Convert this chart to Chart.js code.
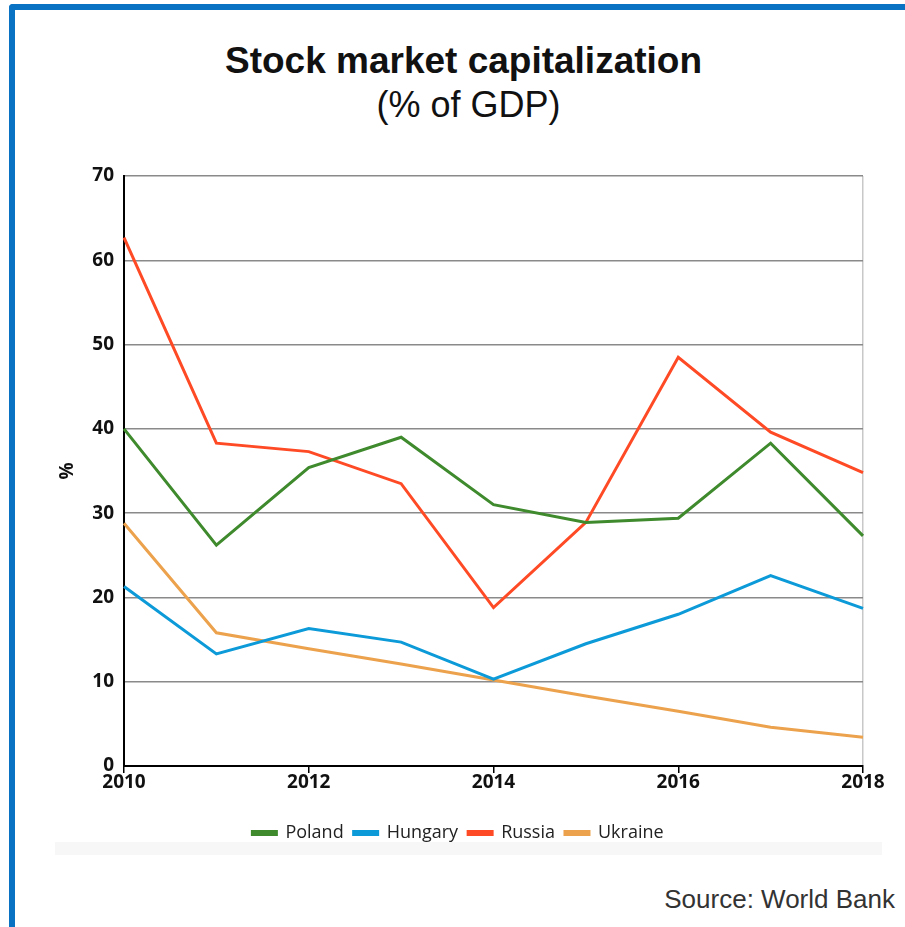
<!DOCTYPE html>
<html>
<head>
<meta charset="utf-8">
<script src="https://cdn.jsdelivr.net/npm/chart.js@4.4.1/dist/chart.umd.min.js"></script>
<style>
  body { margin: 0; background: #fff; }
  #frame {
    position: relative;
    width: 905px;
    height: 927px;
    overflow: hidden;
    background: #fff;
  }
  #frame .edge-top {
    position: absolute; left: 9px; top: 4px; right: -10px; height: 6px;
    background: #0a72c3; border-top-left-radius: 4px;
  }
  #frame .edge-left {
    position: absolute; left: 9px; top: 4px; width: 6px; bottom: 0;
    background: #0a72c3; border-top-left-radius: 4px;
  }
  .title {
    position: absolute; left: 22px; right: 0; top: 40px;
    text-align: center;
    font-family: "Liberation Sans", Arial, sans-serif;
    font-weight: bold; font-size: 37px; color: #111;
  }
  .subtitle {
    position: absolute; left: 32px; right: 0; top: 84px;
    text-align: center;
    font-family: "Liberation Sans", Arial, sans-serif;
    font-size: 36px; color: #111;
  }
  .band {
    position: absolute; left: 55px; top: 842px; width: 827px; height: 13px;
    background: #f7f7f7;
  }
  .source {
    position: absolute; right: 10px; top: 884px;
    font-family: "Liberation Sans", Arial, sans-serif;
    font-size: 26px; color: #333;
  }
  #chartBox {
    position: absolute; left: 0; top: 150px; width: 905px; height: 720px;
  }
</style>
</head>
<body>
<div id="frame">
  <div class="edge-top"></div>
  <div class="edge-left"></div>
  <div class="title">Stock market capitalization</div>
  <div class="subtitle">(% of GDP)</div>
  <div class="band"></div>
  <div id="chartBox"><canvas id="capChart"></canvas></div>
  <div class="source">Source: World Bank</div>
</div>
<script>
// Stock market capitalization, % of GDP
const years = ['2010', '2011', '2012', '2013', '2014', '2015', '2016', '2017', '2018'];
const poland  = [40.0, 26.2, 35.4, 39.0, 31.0, 28.9, 29.4, 38.3, 27.3];
const hungary = [21.3, 13.3, 16.3, 14.7, 10.3, 14.5, 18.0, 22.6, 18.7];
const russia  = [62.7, 38.3, 37.3, 33.5, 18.8, 28.9, 48.5, 39.6, 34.8];
const ukraine = [28.8, 15.8, 13.9, 12.1, 10.2,  8.3,  6.5,  4.6,  3.4];
const yTicks = [0, 10, 20, 30, 40, 50, 60, 70];

function series(label, data, color) {
    return {
        label: label,
        data: data,
        borderColor: color,
        backgroundColor: color,
        borderWidth: 3,
        pointRadius: 0,
        tension: 0,
        fill: false
    };
}

const tickFont = { family: '"Open Sans", sans-serif', weight: 'bold', size: 19 };

const ctx = document.getElementById('capChart').getContext('2d');
new Chart(ctx, {
    type: 'line',
    data: {
        labels: years,
        datasets: [
            series('Poland', poland, '#3e8a2c'),
            series('Hungary', hungary, '#0c9ad8'),
            series('Russia', russia, '#ff4a26'),
            series('Ukraine', ukraine, '#eca24c')
        ]
    },
    options: {
        responsive: true,
        maintainAspectRatio: false,
        animation: false,
        layout: {
            padding: { left: 53, right: 42, top: 26, bottom: 18 }
        },
        scales: {
            x: {
                offset: false,
                border: { color: '#000', width: 2 },
                grid: {
                    color: c => c.index === years.length - 1 ? '#c8c8c8' : 'transparent',
                    tickColor: c => c.index % 2 === 0 ? '#000' : 'transparent',
                    tickLength: 7,
                    lineWidth: 1.5
                },
                ticks: {
                    autoSkip: false,
                    maxRotation: 0,
                    padding: -2,
                    color: '#111',
                    font: tickFont,
                    callback: (v, i) => i % 2 === 0 ? years[i] : ''
                },
                afterFit: s => { s.height = 48; }
            },
            y: {
                min: 0,
                max: 70,
                afterBuildTicks: s => { s.ticks = yTicks.map(v => ({ value: v })); },
                border: { color: '#000', width: 2 },
                grid: {
                    color: '#8a8a8a',
                    lineWidth: 1.5,
                    drawTicks: false
                },
                ticks: {
                    padding: 10,
                    color: '#111',
                    font: tickFont
                },
                title: {
                    display: true,
                    text: '%',
                    color: '#111',
                    font: { family: '"Open Sans", sans-serif', weight: 'bold', size: 19 },
                    padding: 3
                },
                afterFit: s => { s.width = 124 - 53; }
            }
        },
        plugins: {
            legend: {
                position: 'bottom',
                labels: {
                    boxWidth: 24,
                    boxHeight: 3,
                    padding: 10,
                    color: '#222',
                    font: { family: '"Open Sans", sans-serif', size: 18 }
                }
            },
            tooltip: { enabled: false }
        }
    }
});
</script>
</body>
</html>
